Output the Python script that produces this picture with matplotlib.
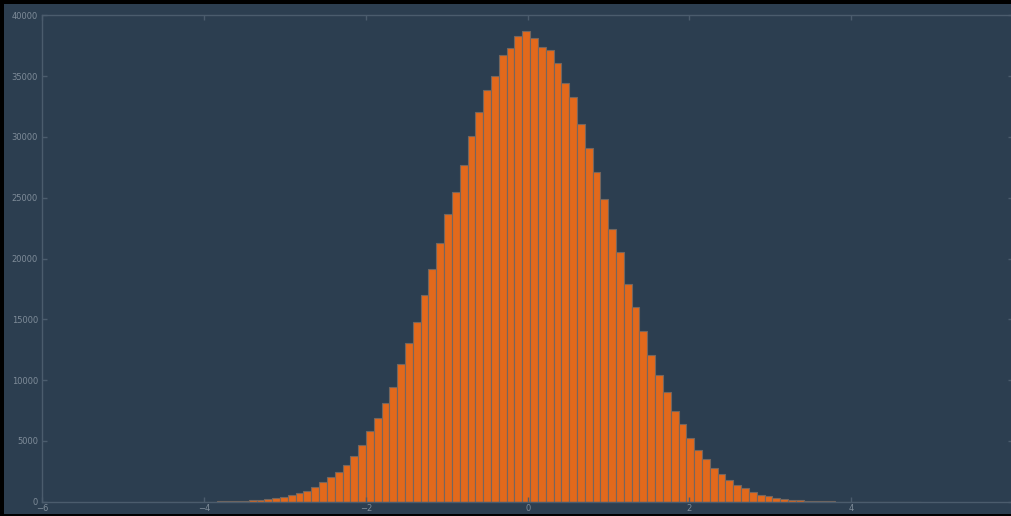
import numpy as np
import matplotlib
matplotlib.use('Agg')
import matplotlib.pyplot as plt
from matplotlib.patches import Rectangle

# 直方图数据 (100 个分箱, 计数)
bin_lo = -4.80
bin_hi = 4.86
counts = [
    1, 0, 1, 1, 2, 3, 5, 7, 11, 15,
    24, 33, 48, 70, 110, 110, 192, 329, 384, 520,
    685, 877, 1233, 1589, 2040, 2466, 3041, 3781, 4685, 5787,
    6855, 8088, 9428, 11294, 13020, 14796, 17015, 19103, 21250, 23624,
    25482, 27677, 30060, 32009, 33842, 34993, 36719, 37351, 38305, 38716,
    38141, 37434, 37187, 36061, 34417, 33324, 31047, 29049, 27101, 24882,
    22400, 20500, 17895, 16004, 14056, 12059, 10415, 8993, 7431, 6412,
    5261, 4274, 3535, 2745, 2252, 1825, 1373, 1101, 773, 575,
    444, 304, 222, 164, 115, 80, 55, 37, 25, 16,
    10, 7, 4, 3, 2, 1, 1, 0, 0, 1,
]
xticks = [-6, -4, -2, 0, 2, 4]
yticks = list(range(0, 40001, 5000))

bg = '#2c3e50'
spine_c = '#4b5c6d'
label_c = '#7f8c99'

fig = plt.figure(figsize=(10.11, 5.16), dpi=100, facecolor=bg)
ax = fig.add_axes([0.0418, 0.0277, 1.002 - 0.0418, 0.9703 - 0.0277], facecolor=bg)

edges = np.linspace(bin_lo, bin_hi, len(counts) + 1)
ax.bar(edges[:-1], counts, width=np.diff(edges), align='edge',
       color='#e2691c', edgecolor='#75665e', linewidth=0.8)

ax.set_xlim(-6, 6)
ax.set_ylim(0, 40000)
ax.set_xticks(xticks)
ax.set_yticks(yticks)
ax.set_xticklabels(['\u22126', '\u22124', '\u22122', '0', '2', '4'])

for s in ax.spines.values():
    s.set_color(spine_c)
    s.set_linewidth(1.0)
ax.tick_params(axis='both', direction='in', length=3.5, width=1,
               color=spine_c, labelcolor=label_c, labelsize=6,
               top=True, right=True)
ax.tick_params(axis='x', pad=2)
ax.tick_params(axis='y', pad=3)

# 截图的黑色边框
W, H = 1011, 516
for (x, y, w, h) in [(0, 0, 4, H), (0, H - 4, W, 4), (0, 0, W, 2)]:
    fig.patches.append(Rectangle((x / W, y / H), w / W, h / H, transform=fig.transFigure,
                                 facecolor='black', edgecolor='none', zorder=10))

fig.savefig('out.png', dpi=100, facecolor=bg)
